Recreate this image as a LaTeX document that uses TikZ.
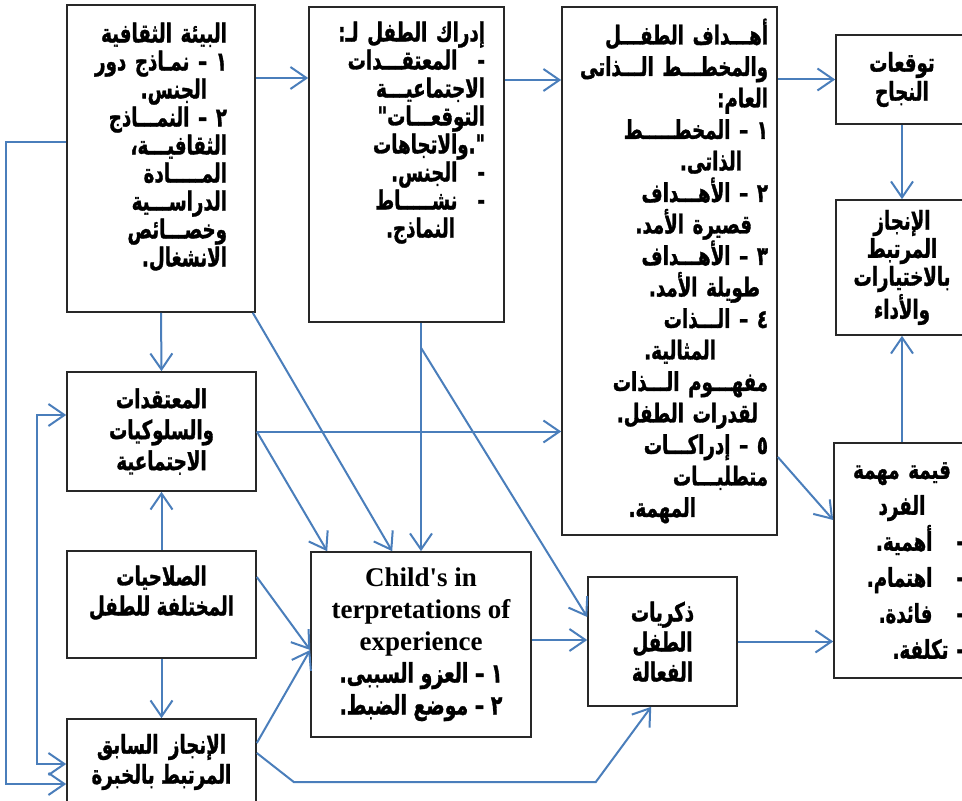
\documentclass[tikz,border=0pt]{standalone}
\usepackage{fontspec}
\setmainfont{Liberation Serif}
\newfontfamily\arabicfont[Script=Arabic, FakeStretch=0.7, BoldFeatures={FakeBold=1.2}]{DejaVu Sans}
\TeXXeTstate=1
\usetikzlibrary{arrows.meta, calc}
\definecolor{linkblue}{RGB}{74, 126, 187}
\definecolor{framegray}{RGB}{40, 40, 40}
\newcommand{\arline}[1]{\mbox{\beginR #1\endR}}
\newcommand{\arlinein}[2][10pt]{\mbox{\beginR\hspace{#1}#2\endR}}

\begin{document}
\begin{tikzpicture}[
  x=0.5pt, y=-0.5pt,
  box/.style 2 args={rectangle, draw=framegray, line width=0.8pt, fill=white, inner sep=3pt, minimum width=0.5pt*#1, minimum height=0.5pt*#2},
  artext/.style={font=\arabicfont\bfseries\fontsize{13}{#1}\selectfont, align=center},
  artext/.default=15pt,
  arlist/.style 2 args={font=\arabicfont\bfseries\fontsize{13}{#2}\selectfont, align=right, text width=#1},
  entext/.style={font=\bfseries\fontsize{13.5}{16}\selectfont, align=center},
  arr/.style={-{Straight Barb[length=8pt, width=11pt]}, line width=1pt, color=linkblue},
  darr/.style={{Straight Barb[length=8pt, width=11pt]}-{Straight Barb[length=8pt, width=11pt]}, line width=1pt, color=linkblue}
]
\useasboundingbox (0,0) rectangle (962,801);
\clip (0,0) rectangle (962,801);

% Column 1: culture and the child
\node[box={188}{307}, arlist={66pt}{14pt}, text depth=126pt] (culture) at (161,158.5) {
  \arline{البيئة الثقافية}\\
  \arline{١ – نمـاذج دور}\\
  \arlinein{الجنس.}\\
  \arline{٢ – النمـــاذج}\\
  \arline{الثقافيـــة،}\\
  \arline{المـــــادة}\\
  \arline{الدراســـية}\\
  \arline{وخصـــائص}\\
  \arline{الانشغال.}};
\node[box={189}{119}, artext=15.5pt] (beliefs) at (161.5,431.5) {\arline{المعتقدات}\\ \arline{والسلوكيات}\\ \arline{الاجتماعية}};
\node[box={189}{107}, artext, text depth=14pt] (aptitude) at (161.5,604.5) {\arline{الصلاحيات}\\ \arline{المختلفة للطفل}};
\node[box={189}{86}, artext] (previous) at (161.5,762) {\arline{الإنجاز\hspace{.4em}السابق}\\ \arline{المرتبط بالخبرة}};

% Column 2: perception and interpretation
\node[box={195}{315}, arlist={78.5pt}{14pt}, text depth=133pt] (perception) at (406.5,164.5) {
  \arline{إدراك الطفل لـ:}\\
  \arline{-\hspace{10pt}المعتقـــدات}\\
  \arline{الاجتماعيـــة}\\
  "\arline{التوقعـــات}\\
  \arline{والاتجاهات}".\\
  \arline{-\hspace{10pt}الجنس.}\\
  \arline{-\hspace{10pt}نشـــــاط}\\
  \arlinein[15pt]{النماذج.}};
\node[box={220}{185}, entext] (interp) at (421,644.5) {
  Child\textquotesingle s in\\ terpretations of\\ experience\\
  \arline{\arabicfont\fontsize{13.5}{16}\selectfont ١ – العزو السببى.}\\
  \arline{\arabicfont\fontsize{13.5}{16}\selectfont ٢ – موضع الضبط.}};

% Column 3: goals and memories
\node[box={215}{528}, arlist={98.5pt}{15.75pt}] (goals) at (669.5,271) {
  \arline{أهـــداف الطفـــل}\\
  \arline{والمخطـــط الـــذاتى}\\
  \arline{العام:}\\
  \arline{١ – المخطـــــط}\\
  \arlinein[13pt]{الذاتى.}\\
  \arline{٢ – الأهـــداف}\\
  \arlinein[8pt]{قصيرة الأمد.}\\
  \arline{٣ – الأهـــداف}\\
  \arlinein[4pt]{طويلة الأمد.}\\
  \arline{٤ – الـــذات}\\
  \arlinein[26pt]{المثالية.}\\
  \arline{مفهـــوم الـــذات}\\
  \arlinein[5pt]{لقدرات الطفل.}\\
  \arline{٥ – إدراكـــات}\\
  \arline{متطلبـــات}\\
  \arlinein[36pt]{المهمة.}};
\node[box={149}{129}, artext] (memories) at (662.5,641.5) {\arline{ذكريات}\\ \arline{الطفل}\\ \arline{الفعالة}};

% Column 4: expectations, value and achievement
\node[box={132}{89}, artext=14.5pt] (expect) at (902,79.5) {\arline{توقعات}\\ \arline{النجاح}};
\node[box={132}{135}, artext=14pt] (achieve) at (902,267.5) {\arline{الإنجاز}\\ \arline{المرتبط}\\ \arline{بالاختيارات}\\ \arline{والأداء}};
\node[box={132}{235}, arlist={62pt}{18pt}] (taskval) at (902,560.5) {
  \makebox[\hsize]{\arline{قيمة مهمة}}\\
  \makebox[\hsize]{\arline{الفرد}}\\
  \arline{-\hspace{12pt}أهمية.}\\
  \arline{-\hspace{12pt}اهتمام.}\\
  \arline{-\hspace{12pt}فائدة.}\\
  \arline{-\hspace{4pt}تكلفة.}};

% Arrows
% Top row
\draw[arr] (culture.east |- 0,78) -- (perception.west |- 0,78);
\draw[arr] (perception.east |- 0,80) -- (goals.west |- 0,80);
\draw[arr] (goals.east |- expect.west) -- (expect.west);
\draw[arr] (expect.south) -- (achieve.north);
\draw[arr] (taskval.north) -- (achieve.south);
\draw[arr] (goals.east |- 0,457) -- (taskval.west |- 0,520);

% Left column -> middle
\draw[arr] (culture.south) -- (beliefs.north);
\draw[arr] (aptitude.north) -- (beliefs.south);
\draw[arr] (aptitude.south) -- (previous.north);
\draw[arr] (beliefs.east) -- (goals.west |- beliefs.east);
\draw[arr] (beliefs.east) -- ($(interp.north west)+(17,0)$);
\draw[arr] ($(culture.south east)+(-3,0)$) -- ($(interp.north west)+(82,0)$);
\draw[arr] (perception.south -| interp.north) -- (interp.north);
\draw[arr] ($(perception.south -| interp.north)+(0,25)$) -- (memories.west |- 0,617);
\draw[arr] (aptitude.east |- 0,577) -- (interp.west |- 0,650);
\draw[arr] (previous.east |- 0,743) -- (interp.west |- 0,650);

% Bottom row
\draw[arr] (interp.east |- 0,640) -- (memories.west |- 0,640);
\draw[arr] (memories.east) -- (taskval.west |- memories.east);
\draw[arr] (previous.east |- 0,753) -- ++(37,29) -- ++(302,0) -- ($(memories.south west)+(64,0)$);

% Loops on the left
\draw[arr] (culture.west |- 0,142) -- ++(-60,0) |- (previous.west |- 0,784);
\draw[darr] (beliefs.west |- 0,415) -- ++(-29,0) |- (previous.west |- 0,764);

\end{tikzpicture}
\end{document}
